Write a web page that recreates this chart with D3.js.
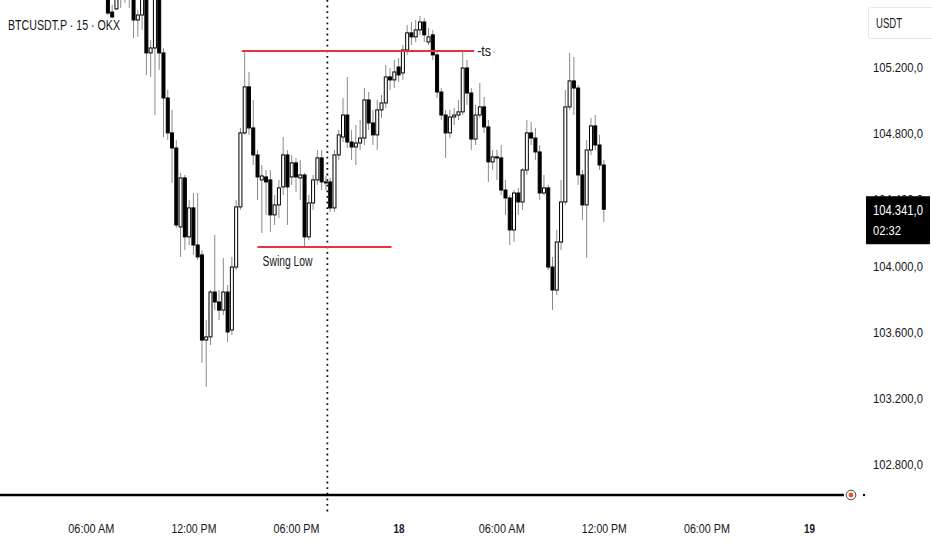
<!DOCTYPE html>
<html>
<head>
<meta charset="utf-8">
<script src="https://cdn.jsdelivr.net/npm/d3@7"></script>
<style>
  html, body { margin: 0; padding: 0; background: #ffffff; }
  svg { display: block; }
  text { font-family: "Liberation Sans", "Roboto", sans-serif; }
</style>
</head>
<body>
<svg id="chart" width="932" height="550"></svg>
<script>
// ---------------- DATA ----------------
const symbolTitle = "BTCUSDT.P · 15 · OKX";
const currency = "USDT";
const firstCandle = new Date(2025, 0, 17, 7, 0);   // 15-minute candles from here
const candleMinutes = 15;

const open = [
105756,105532,105551,105726,105635,105756,105665,105484,105514,105696,
105285,105315,105665,105285,105013,104802,104711,104234,104530,104174,
104349,104125,104065,103551,103570,103841,103781,103732,103841,103612,
103992,104355,104802,105080,104832,104669,104518,104536,104518,104307,
104367,104476,104669,104536,104621,104530,104548,104174,104379,104518,
104651,104506,104506,104349,104669,104777,104910,104747,104717,104741,
104771,105001,104862,104790,104941,104983,105140,105122,105200,105164,
105303,105406,105382,105424,105472,105351,105394,105273,105049,104910,
104802,104898,104910,104929,105194,105043,104765,104910,104959,104838,
104627,104657,104651,104457,104409,104216,104439,104385,104578,104802,
104771,104687,104439,104470,103992,103853,104143,104385,104959,105116,
105073,104548,104367,104699,104844,104729,104608];

const high = [
105816,105575,105786,105786,105816,105816,105726,105545,105756,105756,
105363,105726,105726,105315,105061,104941,104759,104560,104548,104397,
104439,104439,104095,103672,103853,104186,103853,104047,103884,104053,
104397,104832,105297,105170,105001,104699,104608,104578,104578,104427,
104518,104777,104699,104669,104651,104639,104560,104427,104548,104699,
104699,104542,104530,104699,104820,105013,105140,104820,104850,104880,
105073,105049,104941,105001,105031,105212,105194,105243,105255,105333,
105454,105472,105484,105508,105496,105436,105424,105303,105073,104941,
104941,104953,105001,105291,105243,105073,104971,105104,105019,104880,
104699,104699,104729,104518,104427,104457,104470,104590,104880,104868,
104832,104729,104548,104488,104053,104216,104518,105061,105285,105261,
105092,104578,104759,104892,104910,104790,104639];

const low = [
105514,105496,105545,105557,105587,105557,105375,105382,105424,105152,
105140,104910,105182,104777,104759,104500,104228,104053,104095,104125,
104065,104035,103413,103268,103521,103732,103672,103702,103539,103582,
103974,104337,104790,104790,104608,104397,104198,104307,104204,104246,
104288,104427,104246,104488,104445,104397,104119,104155,104337,104488,
104457,104457,104325,104325,104639,104747,104711,104639,104608,104699,
104729,104820,104729,104699,104892,104953,105061,105073,105110,105122,
105273,105333,105351,105394,105351,105333,105243,105013,104880,104651,
104771,104850,104880,104910,104971,104699,104729,104892,104802,104506,
104578,104518,104427,104307,104125,104143,104307,104337,104548,104729,
104639,104397,104427,103974,103732,103823,104095,104367,104941,104910,
104488,104276,104047,104669,104699,104578,104264];

const close = [
105526,105502,105726,105635,105756,105665,105484,105514,105696,105285,
105315,105665,105285,105013,104802,104711,104246,104530,104174,104349,
104125,104053,103551,103570,103841,103781,103732,103841,103600,103992,
104355,104802,105080,104832,104669,104536,104542,104506,104307,104367,
104470,104669,104476,104621,104536,104548,104174,104379,104518,104651,
104506,104500,104349,104669,104790,104910,104747,104717,104741,104771,
105001,104862,104790,104941,104983,105140,105122,105170,105152,105303,
105406,105382,105424,105472,105394,105382,105273,105049,104910,104802,
104898,104910,104929,105194,105043,104765,104910,104959,104838,104627,
104657,104651,104457,104409,104216,104439,104385,104578,104802,104771,
104687,104439,104470,103992,103853,104143,104385,104959,105116,105073,
104548,104367,104699,104844,104729,104608,104341];

const priceTicks = [102800, 103200, 103600, 104000, 104400, 104800, 105200];
const timeTicks = [
  new Date(2025,0,17,6), new Date(2025,0,17,12), new Date(2025,0,17,18),
  new Date(2025,0,18,0), new Date(2025,0,18,6), new Date(2025,0,18,12),
  new Date(2025,0,18,18), new Date(2025,0,19,0)
];
const lastPrice = 104341;
const countdown = "02:32";

// drawn levels
const levelPrices = [105297, 104113];
const levelStarts = [new Date(2025,0,17,14,50), new Date(2025,0,17,15,45)];
const levelEnds   = [new Date(2025,0,18,4,25),  new Date(2025,0,17,23,35)];
const levelLabels = ["-ts", "Swing Low"];
const dividerTime = new Date(2025,0,17,19,50);

// ---------------- CHART ----------------
const svg = d3.select("#chart");
const FONT = '"Liberation Sans", "Roboto", sans-serif';

const x = d3.scaleTime()
  .domain([new Date(2025,0,17,0,0), new Date(2025,0,19,0,0)])
  .range([-11.8, 809]);
const y = d3.scaleLinear()
  .domain([102800, 105200])
  .range([464.4, 67]);

const candles = open.map((o, i) => ({
  t: d3.timeMinute.offset(firstCandle, i * candleMinutes),
  o, h: high[i], l: low[i], c: close[i]
}));

// condensed-looking text helper: squeeze glyphs to the reference width
function narrow(sel, w) {
  sel.attr("textLength", w).attr("lengthAdjust", "spacingAndGlyphs");
}

const plot = svg.append("g");

// dotted vertical divider
plot.append("line")
  .attr("x1", x(dividerTime)).attr("x2", x(dividerTime))
  .attr("y1", 0).attr("y2", 512)
  .attr("stroke", "#111").attr("stroke-width", 1.8)
  .attr("stroke-dasharray", "1.8,3.8");

// wicks
plot.append("g").selectAll("line").data(candles).join("line")
  .attr("x1", d => x(d.t)).attr("x2", d => x(d.t))
  .attr("y1", d => y(d.h)).attr("y2", d => y(d.l))
  .attr("stroke", "#8a8a8a").attr("stroke-width", 1);

// bodies
const bodyW = 3;
plot.append("g").selectAll("rect").data(candles).join("rect")
  .attr("x", d => x(d.t) - bodyW / 2)
  .attr("y", d => y(Math.max(d.o, d.c)))
  .attr("width", bodyW)
  .attr("height", d => Math.max(0.8, Math.abs(y(d.o) - y(d.c))))
  .attr("fill", d => d.c >= d.o ? "#ffffff" : "#000000")
  .attr("stroke", "#000000").attr("stroke-width", 1);

// levels
const levels = levelPrices.map((p, i) => ({ p, s: levelStarts[i], e: levelEnds[i], label: levelLabels[i] }));
plot.append("g").selectAll("line").data(levels).join("line")
  .attr("x1", d => x(d.s)).attr("x2", d => x(d.e))
  .attr("y1", d => y(d.p)).attr("y2", d => y(d.p))
  .attr("stroke", "#e3343f").attr("stroke-width", 2);

// "-ts" label to the right of the first level
svg.append("text")
  .attr("x", x(levels[0].e) + 3).attr("y", y(levels[0].p))
  .attr("dy", "0.35em").attr("font-size", 14).attr("fill", "#131722")
  .text(levels[0].label).call(narrow, 14);
svg.append("circle")
  .attr("cx", x(levels[0].e) + 20).attr("cy", y(levels[0].p) + 1)
  .attr("r", 0.8).attr("fill", "#aaa");

// "Swing Low" label under second level
svg.append("text")
  .attr("x", x(levels[1].s) + 5).attr("y", y(levels[1].p) + 14)
  .attr("dy", "0.35em").attr("font-size", 14).attr("fill", "#131722")
  .text(levels[1].label).call(narrow, 50);

// bottom time axis line
svg.append("line")
  .attr("x1", 0).attr("x2", 844).attr("y1", 495).attr("y2", 495)
  .attr("stroke", "#000").attr("stroke-width", 2.5);
svg.append("circle").attr("cx", 851).attr("cy", 495).attr("r", 4.8)
  .attr("fill", "#fff").attr("stroke", "#444").attr("stroke-width", 1);
svg.append("circle").attr("cx", 851).attr("cy", 495).attr("r", 2.4)
  .attr("fill", "#e8572a");
svg.append("circle").attr("cx", 864).attr("cy", 495).attr("r", 1.2)
  .attr("fill", "#000");

// time axis
const fmtTime = d => (d.getHours() === 0 ? d3.timeFormat("%-d")(d) : d3.timeFormat("%I:%M %p")(d));
const xAxis = d3.axisBottom(x).tickValues(timeTicks).tickFormat(fmtTime).tickSize(0).tickPadding(0);
const gx = svg.append("g").attr("transform", "translate(0,523)").call(xAxis);
gx.select(".domain").remove();
gx.selectAll("text").attr("font-size", 13.5).attr("fill", "#131722")
  .attr("font-family", FONT)
  .style("font-weight", d => d.getHours() === 0 ? "bold" : "normal")
  .attr("textLength", d => d.getHours() === 0 ? 11 : (d.getHours() === 12 ? 45 : 46))
  .attr("lengthAdjust", "spacingAndGlyphs");

// price axis
const loc = d3.formatLocale({ decimal: ",", thousands: ".", grouping: [3], currency: ["", ""] });
const fmtPrice = loc.format(",.1f");
const yAxis = d3.axisRight(y).tickValues(priceTicks).tickFormat(fmtPrice).tickSize(0).tickPadding(0);
const gy = svg.append("g").attr("transform", "translate(873,0)").call(yAxis);
gy.select(".domain").remove();
gy.selectAll("text").attr("font-size", 13.5).attr("fill", "#131722")
  .attr("font-family", FONT)
  .attr("textLength", 50).attr("lengthAdjust", "spacingAndGlyphs");

// currency box
svg.append("rect").attr("x", 868.5).attr("y", 7.5).attr("width", 70).attr("height", 31)
  .attr("rx", 2).attr("fill", "#fff").attr("stroke", "#e6e8ee");
svg.append("text").attr("x", 876).attr("y", 23).attr("dy", "0.35em")
  .attr("font-size", 14).attr("fill", "#131722").text(currency).call(narrow, 26);

// last price box
const ly = y(lastPrice);
svg.append("rect").attr("x", 866).attr("y", ly - 13).attr("width", 64).attr("height", 48)
  .attr("fill", "#000");
svg.append("text").attr("x", 873).attr("y", ly + 1).attr("dy", "0.35em")
  .attr("font-size", 14).attr("fill", "#fff").text(fmtPrice(lastPrice)).call(narrow, 50);
svg.append("text").attr("x", 873).attr("y", ly + 21).attr("dy", "0.35em")
  .attr("font-size", 13.5).attr("fill", "#fff").text(countdown).call(narrow, 28);

// title
svg.append("text").attr("x", 8).attr("y", 25).attr("dy", "0.35em")
  .attr("font-size", 15).attr("fill", "#131722").text(symbolTitle).call(narrow, 112);
</script>
</body>
</html>
